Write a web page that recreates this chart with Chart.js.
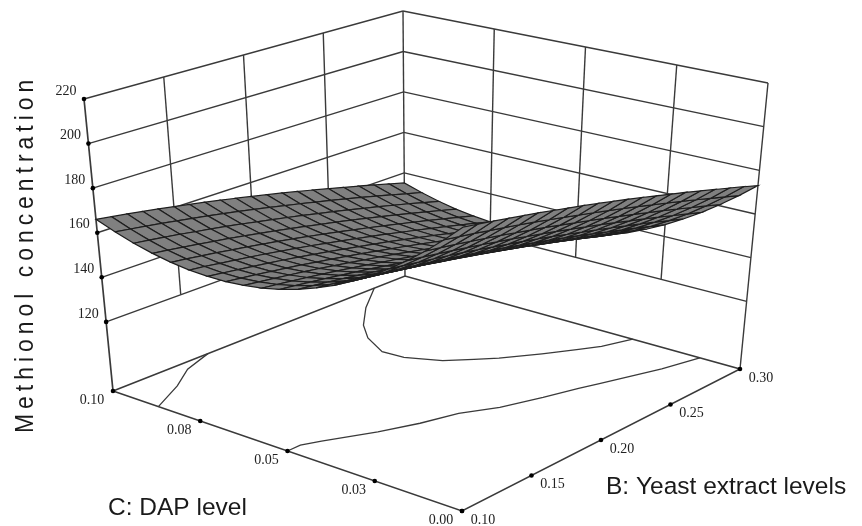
<!DOCTYPE html>
<html>
<head>
<meta charset="utf-8">
<style>html,body{margin:0;padding:0;background:#fff}canvas{display:block}</style>
<script src="https://cdn.jsdelivr.net/npm/chart.js@4"></script>
</head>
<body>
<canvas id="chart" width="862" height="526"></canvas>
<script>
var zTicks = [120, 140, 160, 180, 200, 220];
var zTickLabels = ['120', '140', '160', '180', '200', '220'];
var bTicks = [0.10, 0.15, 0.20, 0.25, 0.30];
var bTickLabels = ['0.10', '0.15', '0.20', '0.25', '0.30'];
var cTicks = [0.10, 0.075, 0.05, 0.025, 0.00];
var cTickLabels = ['0.10', '0.08', '0.05', '0.03', '0.00'];

// floor contours as [B, C]
var contour160a = [[0.100,0.087],[0.125,0.092],[0.144,0.097],[0.165,0.100]];
var contour140 = [[0.279,0.100],[0.257,0.093],[0.239,0.086],[0.228,0.080],[0.219,0.072],[0.220,0.066],[0.223,0.063],[0.228,0.058],[0.238,0.053],[0.246,0.049],[0.262,0.043],[0.276,0.038],[0.285,0.035],[0.300,0.032]];
var contour160b = [[0.100,0.050],[0.109,0.050],[0.119,0.048],[0.144,0.042],[0.164,0.038],[0.184,0.035],[0.201,0.030],[0.222,0.026],[0.240,0.023],[0.250,0.021],[0.280,0.015],[0.300,0.012]];

var yeastLevels = [0.10,0.11,0.12,0.13,0.14,0.15,0.16,0.17,0.18,0.19,0.20,0.21,0.22,0.23,0.24,0.25,0.26,0.27,0.28,0.29,0.30];
var dapLevels = [0.000,0.005,0.010,0.015,0.020,0.025,0.030,0.035,0.040,0.045,0.050,0.055,0.060,0.065,0.070,0.075,0.080,0.085,0.090,0.095,0.100];

// one row per DAP level, one column per yeast level
var zGrid = [
    [207.0,205.9,204.7,203.4,202.1,200.8,199.3,197.8,196.3,194.7,193.0,191.3,189.5,187.6,185.7,183.8,181.7,179.6,177.5,175.3,173.0],
    [199.7,198.6,197.5,196.2,195.0,193.7,192.3,190.8,189.3,187.7,186.1,184.4,182.7,180.9,179.0,177.1,175.1,173.1,170.9,168.8,166.6],
    [192.9,191.9,190.8,189.6,188.4,187.1,185.7,184.3,182.9,181.3,179.7,178.1,176.4,174.6,172.8,170.9,169.0,167.0,164.9,162.8,160.6],
    [186.7,185.7,184.6,183.5,182.3,181.1,179.7,178.4,176.9,175.4,173.9,172.3,170.6,168.9,167.1,165.2,163.3,161.4,159.3,157.2,155.1],
    [181.0,180.1,179.0,177.9,176.8,175.6,174.3,172.9,171.5,170.1,168.6,167.0,165.3,163.6,161.9,160.1,158.2,156.3,154.3,152.2,150.1],
    [175.9,175.0,174.0,172.9,171.8,170.6,169.3,168.0,166.7,165.2,163.7,162.2,160.6,158.9,157.2,155.4,153.5,151.6,149.7,147.6,145.5],
    [171.4,170.5,169.5,168.4,167.3,166.2,164.9,163.7,162.3,160.9,159.4,157.9,156.3,154.7,153.0,151.2,149.4,147.5,145.6,143.6,141.5],
    [167.4,166.5,165.5,164.5,163.4,162.3,161.1,159.8,158.5,157.1,155.7,154.2,152.6,151.0,149.3,147.5,145.7,143.9,141.9,140.0,137.9],
    [164.0,163.1,162.1,161.1,160.1,158.9,157.7,156.5,155.2,153.8,152.4,150.9,149.4,147.7,146.1,144.4,142.6,140.7,138.8,136.8,134.8],
    [161.1,160.2,159.3,158.3,157.2,156.1,154.9,153.7,152.4,151.1,149.6,148.2,146.6,145.0,143.4,141.7,139.9,138.1,136.2,134.2,132.2],
    [158.8,157.9,157.0,156.0,154.9,153.8,152.7,151.4,150.2,148.8,147.4,145.9,144.4,142.8,141.2,139.5,137.7,135.9,134.0,132.1,130.1],
    [157.0,156.1,155.2,154.2,153.2,152.1,150.9,149.7,148.4,147.1,145.7,144.2,142.7,141.1,139.5,137.8,136.0,134.2,132.3,130.4,128.4],
    [155.8,154.9,154.0,153.0,152.0,150.9,149.7,148.5,147.2,145.9,144.5,143.0,141.5,139.9,138.3,136.6,134.8,133.0,131.1,129.2,127.2],
    [155.1,154.2,153.3,152.3,151.3,150.2,149.0,147.8,146.5,145.2,143.8,142.3,140.8,139.3,137.6,135.9,134.2,132.3,130.5,128.5,126.5],
    [155.0,154.1,153.2,152.2,151.2,150.1,148.9,147.7,146.4,145.0,143.6,142.2,140.7,139.1,137.4,135.7,133.9,132.1,130.2,128.3,126.3],
    [155.4,154.6,153.6,152.6,151.6,150.5,149.3,148.1,146.8,145.4,144.0,142.5,141.0,139.4,137.7,136.0,134.2,132.4,130.5,128.6,126.5],
    [156.4,155.6,154.6,153.6,152.5,151.4,150.2,149.0,147.7,146.3,144.9,143.4,141.8,140.2,138.5,136.8,135.0,133.2,131.3,129.3,127.3],
    [158.0,157.1,156.1,155.1,154.0,152.9,151.7,150.4,149.1,147.7,146.2,144.7,143.2,141.6,139.9,138.1,136.3,134.4,132.5,130.5,128.5],
    [160.1,159.2,158.2,157.2,156.0,154.9,153.7,152.4,151.0,149.6,148.1,146.6,145.0,143.4,141.7,139.9,138.1,136.2,134.3,132.2,130.2],
    [162.8,161.8,160.8,159.8,158.6,157.4,156.2,154.9,153.5,152.1,150.6,149.0,147.4,145.7,144.0,142.2,140.4,138.5,136.5,134.4,132.4],
    [166.0,165.0,164.0,162.9,161.7,160.5,159.2,157.9,156.5,155.0,153.5,151.9,150.3,148.6,146.8,145.0,143.1,141.2,139.2,137.1,135.0]
];

var bMin = 0.10, bMax = 0.30, cMin = 0.00, cMax = 0.10, zFloor = 89, zTop = 220;

// screen corners of the box: [front, right, left, back]
var floorCorners = [[462,511],[740,369],[113,391],[405,276]];
var topCorners = [[463,196],[768,83],[84,99],[403,11]];

function bil(q, u, v, k) {
    return (1-v)*((1-u)*q[0][k] + u*q[1][k]) + v*((1-u)*q[2][k] + u*q[3][k]);
}
function project(b, c, z) {
    var u = (b - bMin) / (bMax - bMin), v = (c - cMin) / (cMax - cMin), w = (z - zFloor) / (zTop - zFloor);
    return {
        x: bil(floorCorners, u, v, 0) * (1-w) + bil(topCorners, u, v, 0) * w,
        y: bil(floorCorners, u, v, 1) * (1-w) + bil(topCorners, u, v, 1) * w
    };
}

var sets = [];
function addLine(points, width) {
    sets.push({ data: points, showLine: true, borderColor: '#3a3a3a', borderWidth: width || 1.4, pointRadius: 0, fill: false, tension: 0 });
}

// walls
zTicks.forEach(function (z) {
    addLine([project(bMin, cMax, z), project(bMax, cMax, z)]);
    addLine([project(bMax, cMax, z), project(bMax, cMin, z)]);
});
[0.15, 0.20, 0.25].forEach(function (b) {
    addLine([project(b, cMax, zTicks[0]), project(b, cMax, zTop)]);
});
[0.025, 0.05, 0.075].forEach(function (c) {
    addLine([project(bMax, c, zTicks[0]), project(bMax, c, zTop)]);
});
addLine([project(bMin, cMax, zFloor), project(bMin, cMax, zTop)], 1.7);
addLine([project(bMax, cMax, zFloor), project(bMax, cMax, zTop)]);
addLine([project(bMax, cMin, zFloor), project(bMax, cMin, zTop)]);
// floor
addLine([project(bMin, cMax, zFloor), project(bMax, cMax, zFloor), project(bMax, cMin, zFloor), project(bMin, cMin, zFloor), project(bMin, cMax, zFloor)], 1.6);
[contour160a, contour140, contour160b].forEach(function (line) {
    addLine(line.map(function (p) { return project(p[0], p[1], zFloor); }), 1.3);
});

// surface, far corner first
for (var j = dapLevels.length - 2; j >= 0; j--) {
    for (var i = yeastLevels.length - 2; i >= 0; i--) {
        sets.push({
            data: [
                project(yeastLevels[i], dapLevels[j], zGrid[j][i]),
                project(yeastLevels[i+1], dapLevels[j], zGrid[j][i+1]),
                project(yeastLevels[i+1], dapLevels[j+1], zGrid[j+1][i+1]),
                project(yeastLevels[i], dapLevels[j+1], zGrid[j+1][i]),
                project(yeastLevels[i], dapLevels[j], zGrid[j][i])
            ],
            showLine: true, borderColor: '#1e1e1e', borderWidth: 1.2, backgroundColor: '#808080',
            fill: 'shape', pointRadius: 0, tension: 0
        });
    }
}

// tick dots
function addDots(points) {
    sets.push({ data: points, showLine: false, pointRadius: 2.3, pointBackgroundColor: '#000', pointBorderWidth: 0 });
}
addDots(zTicks.map(function (z) { return project(bMin, cMax, z); }));
addDots(bTicks.map(function (b) { return project(b, cMin, zFloor); }));
addDots(cTicks.map(function (c) { return project(bMin, c, zFloor); }));

var labelsPlugin = {
    id: 'labels3d',
    afterDraw: function (chart) {
        var ctx = chart.ctx, xs = chart.scales.x, ys = chart.scales.y;
        function put(p, dx, dy, text) {
            ctx.fillText(text, xs.getPixelForValue(p.x) + dx, ys.getPixelForValue(p.y) + dy);
        }
        ctx.save();
        ctx.fillStyle = '#222';
        ctx.textAlign = 'center';
        ctx.textBaseline = 'middle';
        ctx.font = '14px "Liberation Serif"';
        zTicks.forEach(function (z, n) { put(project(bMin, cMax, z), -18, -8, zTickLabels[n]); });
        bTicks.forEach(function (b, n) { put(project(b, cMin, zFloor), 21, 9, bTickLabels[n]); });
        cTicks.forEach(function (c, n) { put(project(bMin, c, zFloor), -21, 9, cTickLabels[n]); });
        ctx.fillStyle = '#1a1a1a';
        ctx.font = '24.5px "Liberation Sans"';
        ctx.textBaseline = 'alphabetic';
        ctx.textAlign = 'left';
        ctx.fillText('C: DAP level', 108, 515);
        ctx.fillText('B: Yeast extract levels', 606, 494);
        ctx.font = '26px "Liberation Sans"';
        ctx.translate(33, 433);
        ctx.rotate(-Math.PI / 2);
        ctx.scale(0.88, 1);
        ctx.letterSpacing = '5.7px';
        ctx.fillText('Methionol concentration', 0, 0);
        ctx.restore();
    }
};

new Chart(document.getElementById('chart').getContext('2d'), {
    type: 'scatter',
    data: { datasets: sets.reverse() },
    plugins: [labelsPlugin],
    options: {
        responsive: false,
        animation: false,
        layout: { padding: 0, autoPadding: false },
        plugins: { legend: { display: false }, tooltip: { enabled: false } },
        scales: {
            x: { type: 'linear', min: 0, max: 862, display: false },
            y: { type: 'linear', min: 0, max: 526, reverse: true, display: false }
        }
    }
});
</script>
</body>
</html>
